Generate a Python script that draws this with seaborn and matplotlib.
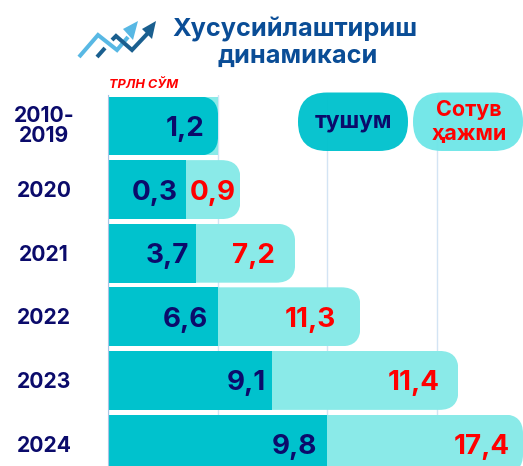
import matplotlib
matplotlib.use("Agg")
import matplotlib.pyplot as plt
from matplotlib.patches import FancyBboxPatch, Polygon
import seaborn as sns
import pandas as pd

sns.set_theme(style="white")
plt.rcParams['font.family'] = ['Inter', 'DejaVu Sans']

W, H = 523, 466
TEAL = '#00c2cd'
LIGHT = '#8aeae8'
NAVY = '#0b0b6b'
RED = '#ff0000'
TITLE_BLUE = '#0a4d96'

years = ['2010-\n2019', '2020', '2021', '2022', '2023', '2024']
# bar lengths as drawn in the picture, in gridline steps (they do not follow the labels)
income_len = [1.005, 0.71, 0.80, 1.005, 1.50, 2.00]
sales_len = [0.00, 0.50, 0.91, 1.30, 1.70, 1.79]
income_labels = ['1,2', '0,3', '3,7', '6,6', '9,1', '9,8']
sales_labels = ['', '0,9', '7,2', '11,3', '11,4', '17,4']
grid_ticks = [0, 1, 2, 3]

# gap between label and bar end, px
income_pad = [14, 8, 7, 10, 6, 10]
sales_pad = [0, 5, 20, 24, 19, 13]

df = pd.DataFrame({'year': years, 'income': income_len, 'sales': sales_len})
df['total'] = df['income'] + df['sales']

fig = plt.figure(figsize=(W / 100, H / 100), dpi=100)

# overlay in pixel coordinates for title, icon and legend pills
top = fig.add_axes([0, 0, 1, 1], zorder=3)
top.set_xlim(0, W)
top.set_ylim(H, 0)
top.axis('off')

# main axes: x=108px is zero, one grid step is 109.5px, rows are 63.6px apart
ax = fig.add_axes([108 / W, 0, (W - 108) / W, (H - 94.5) / H], zorder=2)
ax.patch.set_alpha(0)
sns.barplot(data=df, y='year', x='total', color=LIGHT, width=0.927, saturation=1,
            linewidth=0, ax=ax, zorder=2)
n_light = len(ax.patches)
sns.barplot(data=df, y='year', x='income', color=TEAL, width=0.927, saturation=1,
            linewidth=0, ax=ax, zorder=3)

ax.set_xlim(0, (W - 108) / 109.5)
ax.set_ylim((H - 126) / 63.6, -(126 - 94.5) / 63.6)
ax.set_xticks(grid_ticks)
ax.set_xticklabels([])
ax.set_xlabel('')
ax.set_ylabel('')
ax.set_yticks([])
ax.grid(axis='x', color='#d3e4f4', lw=1, zorder=0)
ax.set_axisbelow(True)
for s in ['top', 'right', 'bottom']:
    ax.spines[s].set_visible(False)
ax.spines['left'].set_color('#a9c4e4')
ax.spines['left'].set_linewidth(0.8)
ax.spines['left'].set_zorder(5)

# round the right end of the outer bar in each row
radius = 19 / 109.5
aspect = 109.5 / 63.6
bar_h = 0.927
for i, (inc, tot) in enumerate(zip(income_len, df['total'])):
    outer = ax.patches[i] if sales_len[i] > 0 else ax.patches[n_light + i]
    clip = FancyBboxPatch((-0.5, i - bar_h / 2), tot + 0.5, bar_h,
                          boxstyle=f'round,pad=0,rounding_size={radius}',
                          mutation_aspect=aspect, transform=ax.transData)
    outer.set_clip_path(clip)
    ax.text(inc - income_pad[i] / 109.5, i, income_labels[i], ha='right', va='center_baseline',
            color=NAVY, fontsize=20, fontweight='bold', zorder=6)
    if sales_labels[i]:
        ax.text(tot - sales_pad[i] / 109.5, i, sales_labels[i], ha='right', va='center_baseline',
                color=RED, fontsize=20, fontweight='bold', zorder=6)
    top.text(44, 127.5 + i * 63.6 - (0 if i else 2), years[i], ha='center', va='center', color=NAVY,
             fontsize=15.2, fontweight='bold', linespacing=1.0)

# title and unit
top.text(295, 30, 'Хусусийлаштириш', ha='center', va='center', color=TITLE_BLUE,
         fontsize=18.2, fontweight='bold')
top.text(298, 56, 'динамикаси', ha='center', va='center', color=TITLE_BLUE,
         fontsize=18.2, fontweight='bold')
top.text(109, 85, 'ТРЛН СЎМ', ha='left', va='center', color=RED, fontsize=9.2,
         fontweight='bold', fontstyle='italic')

# legend pills
for x0, col, alpha in [(298, TEAL, 0.96), (413, '#6fe6e8', 0.96)]:
    top.add_patch(FancyBboxPatch((x0, 92.5), 110, 58.5,
                                 boxstyle='round,pad=0,rounding_size=29',
                                 fc=col, ec='none', alpha=alpha))
top.text(353, 122, 'тушум', ha='center', va='center', color=NAVY, fontsize=16.5, fontweight='bold')
top.text(469, 122, 'Сотув\nҳажми', ha='center', va='center', color=RED, fontsize=15.5,
         fontweight='bold', linespacing=1.25)

# small arrow icon
top.plot([79, 98, 117, 128], [57, 35, 50, 37], color='#58b8e4', lw=2.9,
         solid_joinstyle='miter', solid_capstyle='butt')
top.add_patch(Polygon([[123, 29], [138, 21], [133, 40]], fc='#58b8e4', ec='none'))
top.plot([97, 105], [57, 48], color='#1a5f8f', lw=2.9, solid_capstyle='butt')
top.plot([112, 116, 132, 148], [40, 36, 50, 33], color='#1a5f8f', lw=2.9,
         solid_joinstyle='miter', solid_capstyle='butt')
top.add_patch(Polygon([[142, 29], [156, 21], [152, 39]], fc='#1a5f8f', ec='none'))

fig.savefig('out.png', dpi=100)
